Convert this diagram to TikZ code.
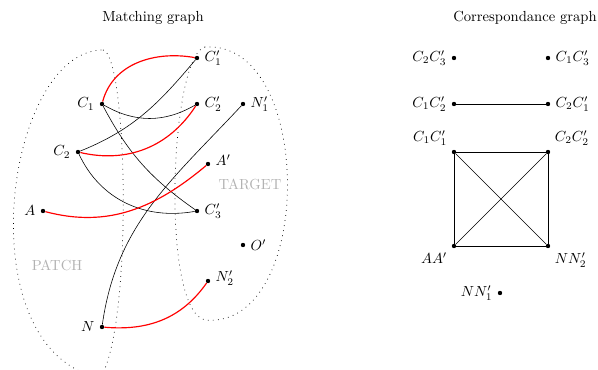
\documentclass[tikz,border=0pt]{standalone}
\usepackage{amsmath,amssymb}
\usepackage{xcolor}
\usepackage{tikz}
\usetikzlibrary{calc, positioning}

\begin{document}
\begin{tikzpicture}[
      x=0.685pt, y=0.685pt,
      vertex/.style={circle, fill, inner sep=0pt, minimum size=3pt},
      match/.style={red, thick},
      cand/.style={black},
      region/.style={line width=0.5pt, dash pattern=on 0.5pt off 3pt},
      zone/.style={gray!60}
    ]
    \useasboundingbox (0,0) rectangle (598,370);

    % matching graph
    \node (mtitle) at (153,352) {Matching graph};
    \node[vertex, label=right:$C_1'$] (c1p) at (197,312) {};
    \node[vertex, label=left:$C_1$]   (c1)  at (102,266) {};
    \node[vertex, label=right:$C_2'$] (c2p) at (197,266) {};
    \node[vertex, label=right:$N_1'$] (n1p) at (243,266) {};
    \node[vertex, label=left:$C_2$]   (c2)  at (78,218) {};
    \node[vertex, label={[yshift=2.5pt]right:$A'$}]  (ap)  at (208,206) {};
    \node[vertex, label=left:$A$]     (a)   at (43,159) {};
    \node[vertex, label=right:$C_3'$] (c3p) at (197,159) {};
    \node[vertex, label=right:$O'$]   (op)  at (243,125) {};
    \node[vertex, label={[yshift=2pt]right:$N_2'$}] (n2p) at (208,89) {};
    \node[vertex, label=left:$N$]     (n)   at (102,43) {};

    \node[zone] (target) at (250,186) {TARGET};
    \node[zone] (patch)  at (57,105) {PATCH};

    \draw[region] (103,320) .. controls (128,315) and (133,40) .. (100,-8)
                            .. controls (-35,20) and (5,320) .. (103,320);
    \draw[region] (205,323) .. controls (170,315) and (160,60) .. (205,50)
                            .. controls (315,40) and (315,330) .. (205,323);

    \draw[cand] (c1) to[bend right=30] (c2p);
    \draw[cand] (c2) to[out=22, in=230] (c1p);
    \draw[cand] (c1) to[out=-62, in=145] (c3p);
    \draw[cand] (c2) to[out=-65, in=190] (c3p);
    \draw[cand] (n)  to[out=82, in=227] (n1p);

    \draw[match] (c1) to[out=75, in=170] (c1p);
    \draw[match] (c2) to[bend right=35] (c2p);
    \draw[match] (a)  to[out=-15, in=220] (ap);
    \draw[match] (n)  to[out=-5, in=235] (n2p);

    % correspondance graph
    \node (ctitle) at (525,352) {Correspondance graph};
    \node[vertex, label=left:$C_2C_3'$]        (c2c3p) at (454,312) {};
    \node[vertex, label=right:$C_1C_3'$]       (c1c3p) at (548,312) {};
    \node[vertex, label=left:$C_1C_2'$]        (c1c2p) at (454,266) {};
    \node[vertex, label=right:$C_2C_1'$]       (c2c1p) at (548,266) {};
    \node[vertex, label=above left:$C_1C_1'$]  (c1c1p) at (454,218) {};
    \node[vertex, label=above right:$C_2C_2'$] (c2c2p) at (548,218) {};
    \node[vertex, label=below left:$AA'$]      (aap)   at (454,124) {};
    \node[vertex, label=below right:$NN_2'$]   (nn2p)  at (548,124) {};
    \node[vertex, label=left:$NN_1'$]          (nn1p)  at (500,77) {};

    \draw (c1c2p) -- (c2c1p);
    \draw (c1c1p) -- (c2c2p) -- (nn2p) -- (aap) -- (c1c1p);
    \draw (c1c1p) -- (nn2p);
    \draw (c2c2p) -- (aap);
  \end{tikzpicture}
\end{document}
